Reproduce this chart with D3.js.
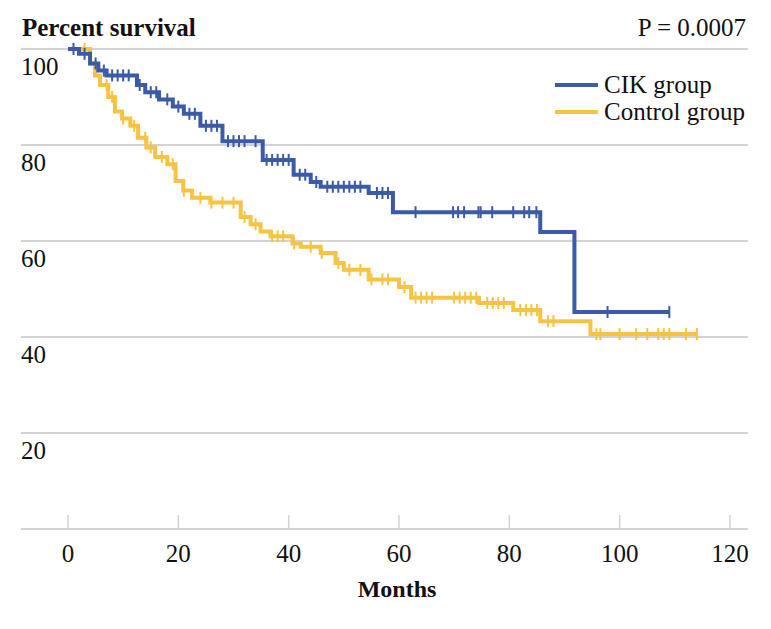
<!DOCTYPE html>
<html>
<head>
<meta charset="utf-8">
<script src="https://cdn.jsdelivr.net/npm/d3@7"></script>
<style>
  body { margin: 0; background: #fff; }
  text { font-family: "Liberation Serif", "Times New Roman", serif; fill: #111; }
</style>
</head>
<body>
<svg width="771" height="629"></svg>
<script>
// step points [months, percent survival]
let cikSteps = [
  [0, 100], [2, 99], [4, 97], [5.5, 95.5], [7, 94.5], [12.5, 92.5], [14, 91],
  [16.5, 89.5], [19, 88], [21, 86.5], [24, 84], [28, 80.8], [35.3, 76.9],
  [40.9, 73.8], [44, 72.3], [45.8, 71.3], [54.5, 70], [58.9, 66], [85.6, 61.9],
  [91.8, 45.2]
];
let cikEnd = 109;
let cikCensor = [1, 3, 5, 6.5, 8, 9, 10, 11, 13, 15, 16, 18, 20, 22, 23, 25, 26,
  27, 29, 30, 31, 32, 34, 36, 37, 38, 39, 40, 42, 43, 45, 47, 48, 49, 50, 51, 52,
  53, 56, 57, 58, 63, 69.8, 70.7, 71.8, 74.4, 74.8, 76.9, 80.7, 82.7, 83.6, 84.9,
  97.8, 109];

let controlSteps = [
  [0, 100], [4, 97], [4.9, 94.5], [5.8, 92.5], [7.3, 90], [8.5, 87], [9.8, 85.5],
  [11.3, 84], [12.7, 81.5], [14.2, 79.5], [15.8, 77.5], [18, 76], [19.5, 72.5],
  [20.9, 70.5], [22.5, 69], [25.8, 68], [31.3, 65], [33.1, 63.5], [34.9, 62],
  [36.7, 61], [40.7, 59.5], [42.2, 58.8], [45.8, 57.5], [48.5, 55.4], [50, 54],
  [54.5, 52], [60, 50.4], [62.2, 48.2], [74.5, 47.1], [80.7, 45.6], [85.6, 43.3],
  [94.7, 40.6]
];
let controlEnd = 114;
let controlCensor = [3, 7, 8, 10, 12, 14, 15, 17, 19, 21, 24, 26, 28, 30, 32, 34,
  37, 38, 39, 41, 44, 46, 49, 51, 53, 55, 57, 58, 61, 63, 64, 65, 66, 70, 71, 72,
  73, 74, 76, 77, 78, 79, 82, 83, 84, 85, 87, 88, 95.8, 96.5, 100, 103, 105, 107,
  108, 109, 112, 114];

let groups = ["CIK group", "Control group"];
let colors = ["#3b5ba6", "#f6c344"];
let xTicks = [0, 20, 40, 60, 80, 100, 120];
let yTicks = [20, 40, 60, 80, 100];

let svg = d3.select("svg");
let x = d3.scaleLinear().domain([0, 120]).range([68, 730]);
let y = d3.scaleLinear().domain([0, 100]).range([529, 49]);

// grid
svg.append("g")
  .selectAll("line")
  .data([0].concat(yTicks))
  .enter()
  .append("line")
  .attr("x1", 21)
  .attr("x2", 748)
  .attr("y1", d => y(d))
  .attr("y2", d => y(d))
  .attr("stroke", "#d3d3d3")
  .attr("stroke-width", 2);

svg.append("g")
  .selectAll("text")
  .data(yTicks)
  .enter()
  .append("text")
  .attr("x", 21)
  .attr("y", d => y(d) + 26)
  .style("font-size", "25px")
  .text(d => d);

// x axis ticks
svg.append("g")
  .selectAll("line")
  .data(xTicks)
  .enter()
  .append("line")
  .attr("x1", d => x(d))
  .attr("x2", d => x(d))
  .attr("y1", y(0))
  .attr("y2", y(0) - 14)
  .attr("stroke", "#d3d3d3")
  .attr("stroke-width", 1.5);

svg.append("g")
  .selectAll("text")
  .data(xTicks)
  .enter()
  .append("text")
  .attr("x", d => x(d))
  .attr("y", 562)
  .attr("text-anchor", "middle")
  .style("font-size", "25px")
  .text(d => d);

svg.append("text").attr("x", 397).attr("y", 597).attr("text-anchor", "middle")
  .style("font-size", "24px").style("font-weight", "bold").text("Months");
svg.append("text").attr("x", 22).attr("y", 36)
  .style("font-size", "25px").style("font-weight", "bold").text("Percent survival");
svg.append("text").attr("x", 746).attr("y", 36).attr("text-anchor", "end")
  .style("font-size", "25px").text("P = 0.0007");

function survAt(steps, t) {
  let s = steps[0][1];
  for (let i = 0; i < steps.length; i++) {
    if (steps[i][0] <= t) s = steps[i][1];
  }
  return s;
}

let line = d3.line()
  .x(d => x(d[0]))
  .y(d => y(d[1]))
  .curve(d3.curveStepAfter);

let series = [
  { steps: cikSteps, end: cikEnd, censor: cikCensor },
  { steps: controlSteps, end: controlEnd, censor: controlCensor }
];

// draw control first so CIK sits on top
[1, 0].forEach(function (k) {
  let s = series[k];
  let pts = s.steps.concat([[s.end, s.steps[s.steps.length - 1][1]]]);
  svg.append("path")
    .attr("d", line(pts))
    .attr("fill", "none")
    .attr("stroke", colors[k])
    .attr("stroke-width", 4);
  svg.append("g")
    .selectAll("line")
    .data(s.censor)
    .enter()
    .append("line")
    .attr("x1", d => x(d))
    .attr("x2", d => x(d))
    .attr("y1", d => y(survAt(s.steps, d)) - 6)
    .attr("y2", d => y(survAt(s.steps, d)) + 6)
    .attr("stroke", colors[k])
    .attr("stroke-width", 2);
});

// legend
let legend = svg.append("g");
legend.selectAll("line")
  .data(groups)
  .enter()
  .append("line")
  .attr("x1", 555)
  .attr("x2", 598)
  .attr("y1", (d, i) => 85 + 27 * i)
  .attr("y2", (d, i) => 85 + 27 * i)
  .attr("stroke", (d, i) => colors[i])
  .attr("stroke-width", 4);
legend.selectAll("text")
  .data(groups)
  .enter()
  .append("text")
  .attr("x", 604)
  .attr("y", (d, i) => 93 + 27 * i)
  .style("font-size", "25px")
  .text(d => d);
</script>
</body>
</html>
